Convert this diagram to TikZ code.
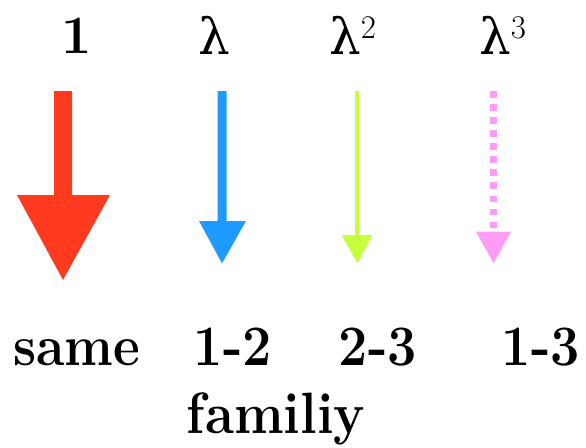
\documentclass[tikz,border=0pt]{standalone}
\usepackage{fontspec}
\newfontfamily\greekx{DejaVu Serif}
\newcommand{\tallx}[1]{\scalebox{1}[1.1]{#1}}
\definecolor{cred}{HTML}{FF3A1E}
\definecolor{cblue}{HTML}{1F9BFF}
\definecolor{cgreen}{HTML}{C5FF3E}
\definecolor{cpink}{HTML}{FF9CF6}
\begin{document}
\begin{tikzpicture}[x=1pt,y=-1pt,
  toplbl/.style={anchor=base, inner sep=0pt, font=\greekx\fontsize{50}{56}\selectfont},
  botlbl/.style={anchor=base, inner sep=0pt, font=\fontsize{52}{58}\selectfont\bfseries}]
\useasboundingbox (0,0) rectangle (586,447);
% top labels
\node[botlbl, font=\fontsize{54}{60}\selectfont\bfseries] (t1) at (77,53) {1};
\node[toplbl] (t2) at (214,54) {λ};
\node[toplbl, anchor=base west] (t3) at (329,54) {λ\raisebox{16pt}{\rmfamily\fontsize{33}{36}\selectfont 2}};
\node[toplbl, anchor=base west] (t4) at (479,54) {λ\raisebox{16pt}{\rmfamily\fontsize{33}{36}\selectfont 3}};
% red arrow
\fill[cred] (54,91) -- (72,91) -- (72,195) -- (110,195) -- (63,280) -- (17,195) -- (54,195) -- cycle;
% blue arrow
\fill[cblue] (217.7,91) -- (226.7,91) -- (226.7,221) -- (246,221) -- (222,263.3) -- (199,221) -- (217.7,221) -- cycle;
% green arrow
\fill[cgreen] (355,91) -- (359.3,91) -- (359.3,235) -- (372.7,235) -- (357.3,263.3) -- (341.7,235) -- (355,235) -- cycle;
% pink dotted arrow
\coordinate (p0) at (493.4,91);
\coordinate (p1) at (493.4,229);
\draw[cpink, line width=6.7pt, dash pattern=on 6.7pt off 6.37pt] (p0) -- (p1);
\fill[cpink] (476,231.7) -- (511,231.7) -- (493.6,263.3) -- cycle;
% bottom labels
\node[botlbl] (b1) at (76.5,365) {\tallx{same}};
\node[botlbl] (b2) at (233,365) {\tallx{1-2}};
\node[botlbl] (b3) at (378,365) {\tallx{2-3}};
\node[botlbl] (b4) at (541,365) {\tallx{1-3}};
\node[botlbl, font=\fontsize{53}{60}\selectfont\bfseries] (b5) at (276,433) {\tallx{familiy}};
\end{tikzpicture}
\end{document}
